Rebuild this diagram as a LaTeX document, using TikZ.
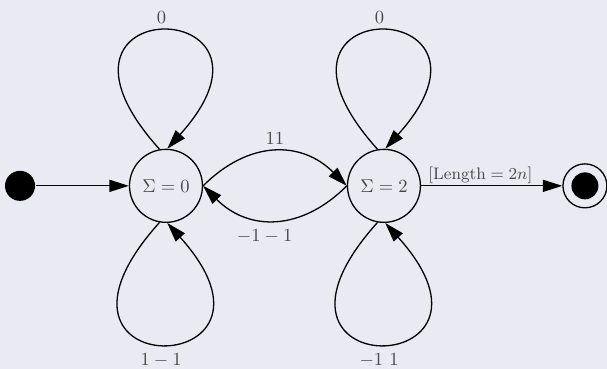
\documentclass[tikz,border=0pt]{standalone}
\usetikzlibrary{arrows.meta}
\definecolor{bgcol}{HTML}{EAEAF2}
\begin{document}
\begin{tikzpicture}[line width=0.7pt,
    state/.style={circle, draw, fill=bgcol, minimum size=1.385cm, inner sep=0pt, text=black!72},
    arr/.style={-{Triangle[length=10.5pt,width=6.5pt]}},
    lbl/.style={text=black!72},
    uploop/.style={out=132, in=48, out distance=4.1cm, in distance=3.95cm},
    downloop/.style={out=228, in=312, out distance=4.22cm, in distance=4.05cm}]
    \fill[bgcol] (0,0) rectangle (11.52,7.0);
    \useasboundingbox (0,0) rectangle (11.52,7.0);
    % nodes
    \node[circle, fill=black, minimum size=0.57cm, inner sep=0pt] (start) at (0.38,3.473) {};
    \node[state] (s0) at (3.15,3.473) {$\Sigma=0$};
    \node[state] (s2) at (7.287,3.473) {$\Sigma=2$};
    \node[circle, draw, minimum size=0.834cm, inner sep=0pt] (fin) at (11.101,3.473) {};
    \fill (fin.center) circle (0.256);
    % edges
    \draw[arr] (start) -- (s0);
    \draw[arr] (s0.100) to[uploop] node[lbl, above] {$0$} (s0.88);
    \draw[arr] (s0.260) to[downloop] node[lbl, below, inner sep=2pt, yshift=-3pt] {$1-1$} (s0.272);
    \draw[arr] (s2.100) to[uploop] node[lbl, above] {$0$} (s2.88);
    \draw[arr] (s2.260) to[downloop] node[lbl, below, inner sep=2pt, yshift=-3pt] {$-1$ $1$} (s2.272);
    \draw[arr] (s0.east) to[out=45, in=135, looseness=1.15] node[lbl, above] {$11$} (s2.west);
    \draw[arr] (s2.west) to[out=225, in=315, looseness=1.15] node[lbl, below, pos=0.57, yshift=-2pt] {$-1-1$} (s0.east);
    \draw[arr] (s2) -- node[lbl, above, pos=0.42, inner sep=1pt] {\small$[\mathrm{Length}=2n]$} (fin);
\end{tikzpicture}
\end{document}
